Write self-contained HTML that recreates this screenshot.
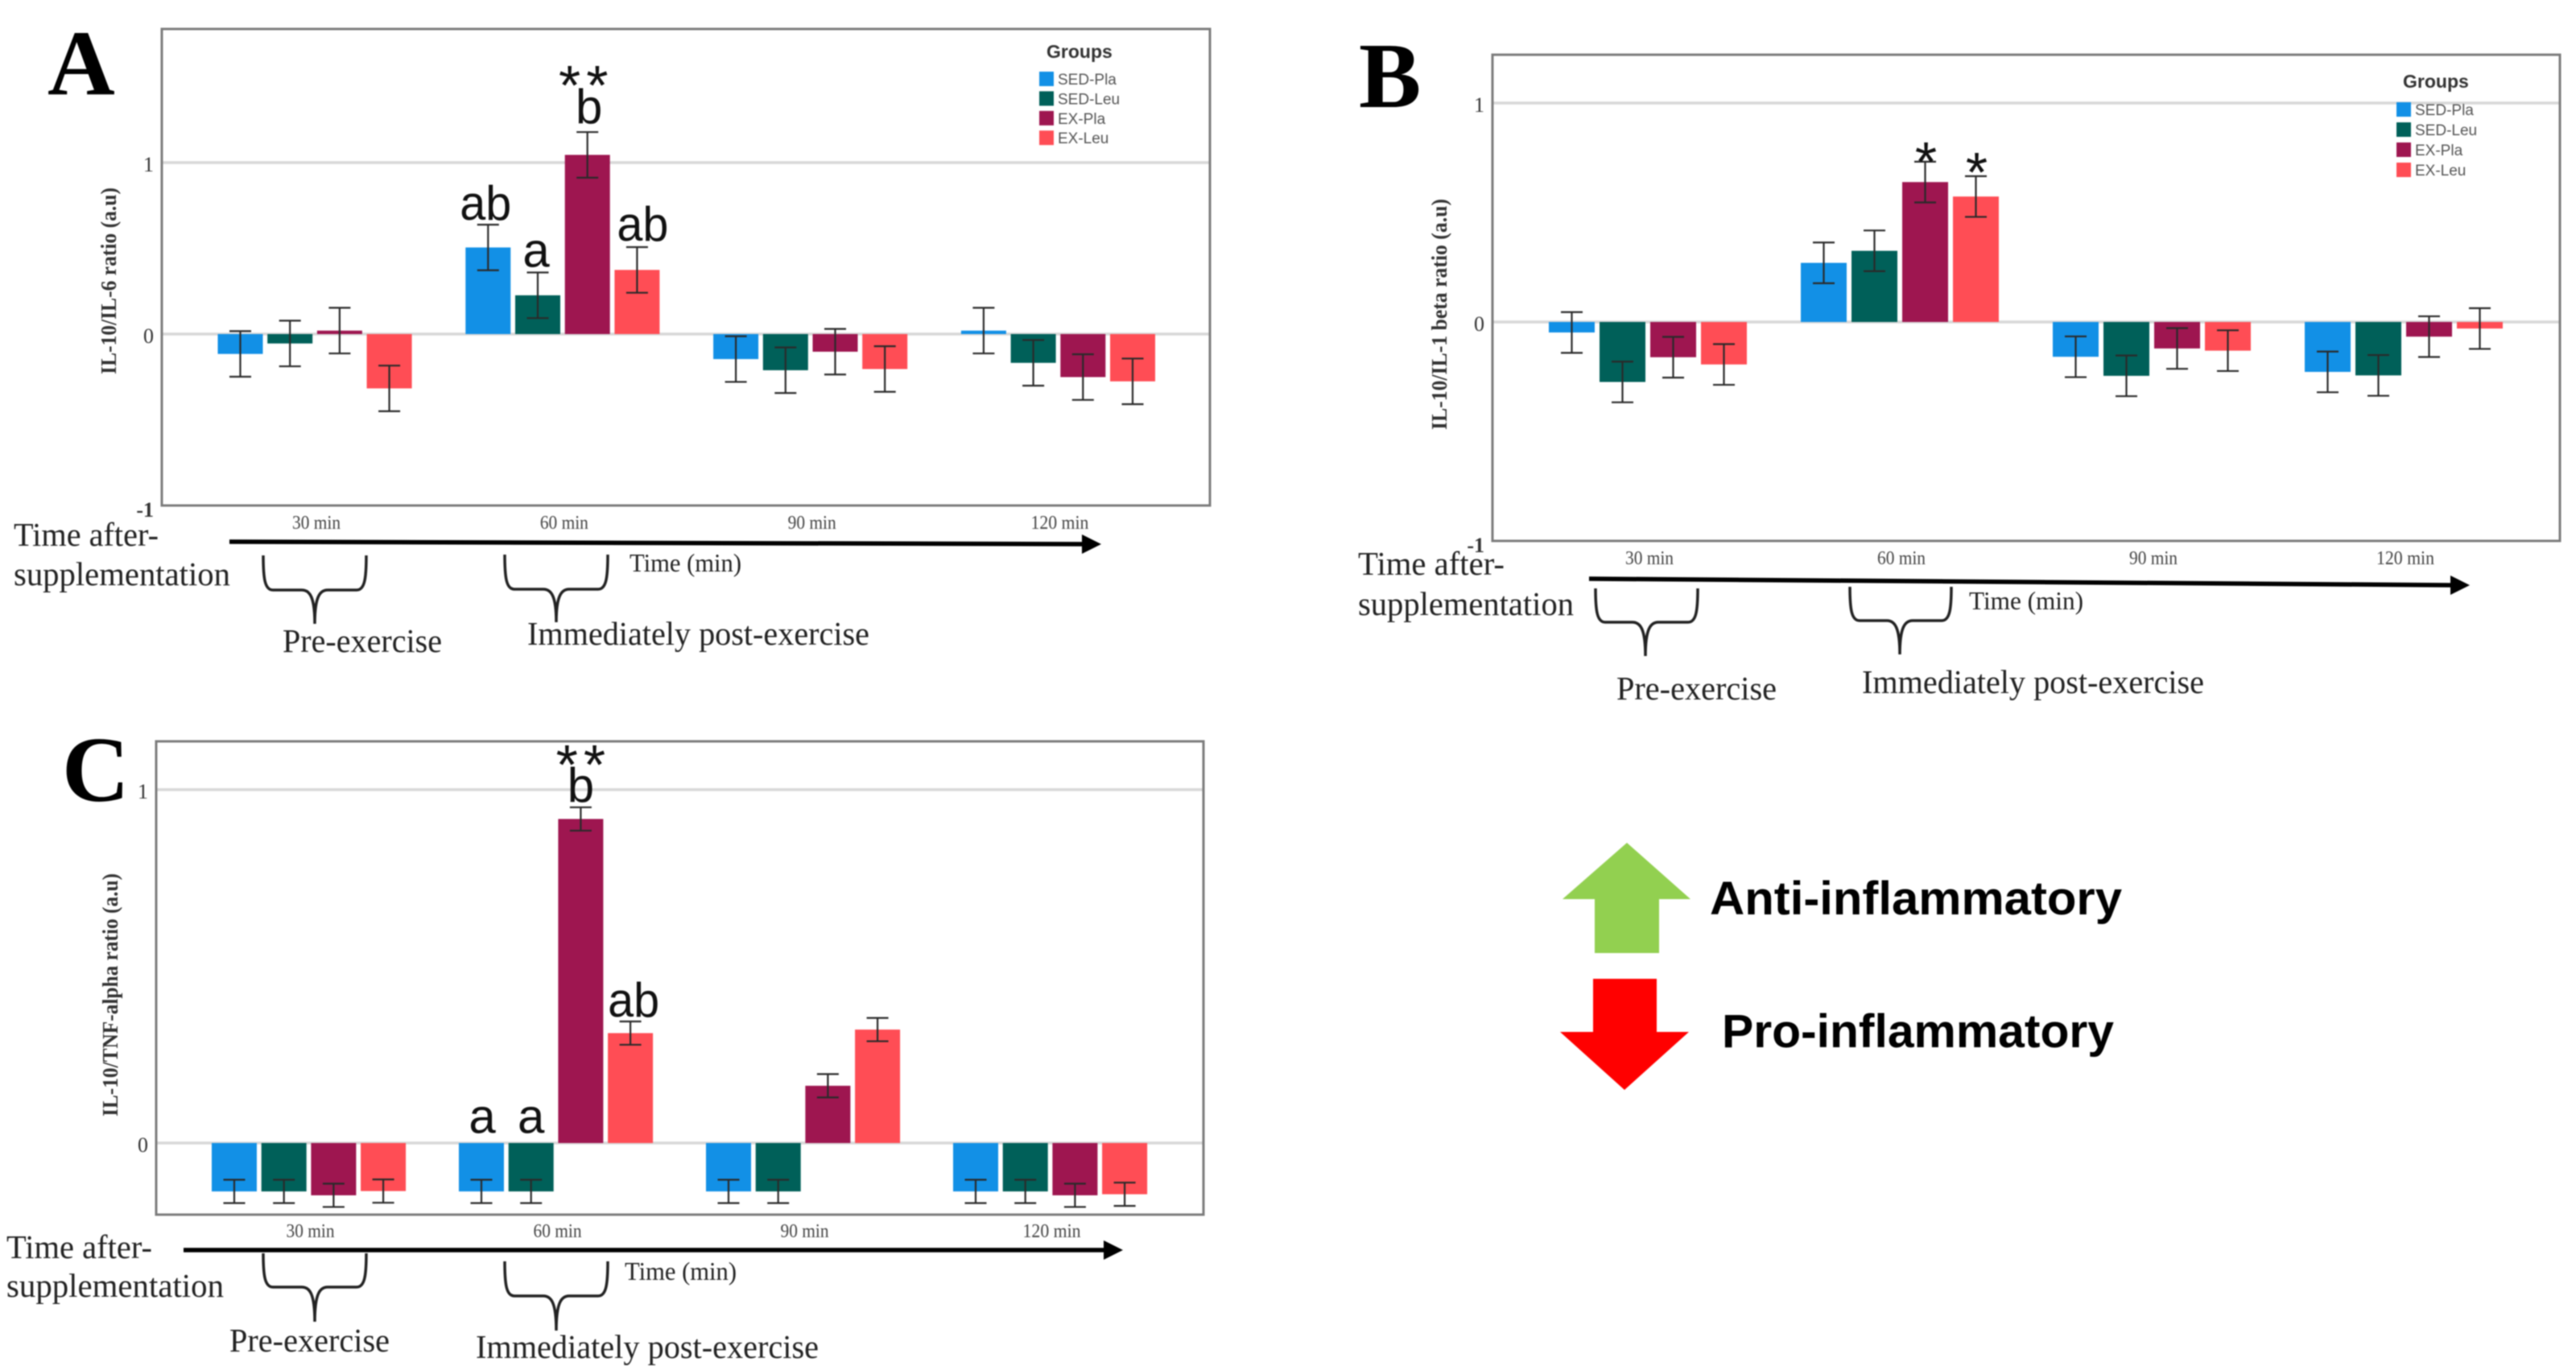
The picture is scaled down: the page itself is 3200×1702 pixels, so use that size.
<!DOCTYPE html>
<html lang="en">
<head>
<meta charset="utf-8">
<title>IL-10 ratios after supplementation</title>
<style>
html,body{margin:0;padding:0;background:#fff;}
#figure{display:block;width:3200px;height:1702px;filter:blur(0.7px);}
.serif{font-family:"Liberation Serif",serif;}
.sans{font-family:"Liberation Sans",sans-serif;}
.letter{font-family:"Liberation Serif",serif;font-weight:700;font-size:116px;fill:#000;}
.note{font-family:"Liberation Serif",serif;font-size:41px;fill:#222;}
.timemin{font-family:"Liberation Serif",serif;font-size:32px;fill:#222;}
.ytitle{font-family:"Liberation Serif",serif;font-weight:700;font-size:27px;fill:#333;}
.brace{fill:none;stroke:#222;stroke-width:3.5;}
.tline{stroke:#000;stroke-width:5.5;}
.side{font-family:"Liberation Sans",sans-serif;font-weight:700;font-size:58px;fill:#000;}
</style>
</head>
<body>
<svg id="figure" xmlns="http://www.w3.org/2000/svg" width="3200" height="1702" viewBox="0 0 3200 1702">
  <g id="panel-a"></g>
  <g id="panel-b"></g>
  <g id="panel-c"></g>

  <text class="letter" x="59" y="117">A</text>
  <text class="letter" x="1688" y="133">B</text>
  <text class="letter" x="77" y="995">C</text>

  <text class="ytitle" transform="translate(144,465) rotate(-90)" textLength="232" lengthAdjust="spacingAndGlyphs">IL-10/IL-6 ratio (a.u)</text>
  <text class="ytitle" transform="translate(1797,534) rotate(-90)" textLength="287" lengthAdjust="spacingAndGlyphs">IL-10/IL-1 beta ratio (a.u)</text>
  <text class="ytitle" transform="translate(146,1387) rotate(-90)" textLength="302" lengthAdjust="spacingAndGlyphs">IL-10/TNF-alpha ratio (a.u)</text>

  <!-- Panel A timeline -->
  <g>
    <text class="note" x="17" y="678" textLength="180" lengthAdjust="spacingAndGlyphs">Time after-</text>
    <text class="note" x="17" y="727" textLength="269" lengthAdjust="spacingAndGlyphs">supplementation</text>
    <line class="tline" x1="285" y1="673" x2="1348" y2="676"/>
    <polygon points="1344,664 1368,676 1344,688" fill="#000"/>
    <text class="timemin" x="782" y="710" textLength="139" lengthAdjust="spacingAndGlyphs">Time (min)</text>
    <path class="brace" d="M327 690 C327 719 329 733 339 733 L375 733 C385 733 391 742 391 775 C391 742 397 733 407 733 L443 733 C453 733 455 719 455 690"/>
    <path class="brace" d="M627 689 C627 718 629 732 639 732 L675 732 C685 732 691 741 691 773 C691 741 697 732 707 732 L743 732 C753 732 755 718 755 689"/>
    <text class="note" x="351" y="810" textLength="198" lengthAdjust="spacingAndGlyphs">Pre-exercise</text>
    <text class="note" x="655" y="801" textLength="425" lengthAdjust="spacingAndGlyphs">Immediately post-exercise</text>
  </g>

  <!-- Panel B timeline -->
  <g>
    <text class="note" x="1687" y="714" textLength="182" lengthAdjust="spacingAndGlyphs">Time after-</text>
    <text class="note" x="1687" y="764" textLength="268" lengthAdjust="spacingAndGlyphs">supplementation</text>
    <line class="tline" x1="1974" y1="719" x2="3048" y2="727"/>
    <polygon points="3044,715 3068,727 3044,739" fill="#000"/>
    <text class="timemin" x="2446" y="757" textLength="142" lengthAdjust="spacingAndGlyphs">Time (min)</text>
    <path class="brace" d="M1982 731 C1982 759 1984 773 1994 773 L2028 773 C2038 773 2044 782 2044 815 C2044 782 2050 773 2060 773 L2097 773 C2107 773 2109 759 2109 731"/>
    <path class="brace" d="M2298 729 C2298 757 2300 771 2310 771 L2344 771 C2354 771 2360 780 2360 813 C2360 780 2366 771 2376 771 L2412 771 C2422 771 2424 757 2424 729"/>
    <text class="note" x="2008" y="869" textLength="199" lengthAdjust="spacingAndGlyphs">Pre-exercise</text>
    <text class="note" x="2313" y="861" textLength="425" lengthAdjust="spacingAndGlyphs">Immediately post-exercise</text>
  </g>

  <!-- Panel C timeline -->
  <g>
    <text class="note" x="8" y="1563" textLength="181" lengthAdjust="spacingAndGlyphs">Time after-</text>
    <text class="note" x="8" y="1611" textLength="270" lengthAdjust="spacingAndGlyphs">supplementation</text>
    <line class="tline" x1="228" y1="1553" x2="1375" y2="1553"/>
    <polygon points="1371,1541 1395,1553 1371,1565" fill="#000"/>
    <text class="timemin" x="776" y="1590" textLength="139" lengthAdjust="spacingAndGlyphs">Time (min)</text>
    <path class="brace" d="M327 1557 C327 1585 329 1599 339 1599 L375 1599 C385 1599 391 1608 391 1642 C391 1608 397 1599 407 1599 L443 1599 C453 1599 455 1585 455 1557"/>
    <path class="brace" d="M627 1567 C627 1596 629 1610 639 1610 L675 1610 C685 1610 691 1619 691 1653 C691 1619 697 1610 707 1610 L743 1610 C753 1610 755 1596 755 1567"/>
    <text class="note" x="285" y="1679" textLength="199" lengthAdjust="spacingAndGlyphs">Pre-exercise</text>
    <text class="note" x="591" y="1687" textLength="426" lengthAdjust="spacingAndGlyphs">Immediately post-exercise</text>
  </g>

  <!-- Side key -->
  <polygon points="2021,1047 2100,1117 2061,1117 2061,1184 1981,1184 1981,1117 1941,1117" fill="#92d050"/>
  <polygon points="1979,1216 2058,1216 2058,1282 2098,1282 2018,1354 1938,1282 1979,1282" fill="#ff0000"/>
  <text class="side" x="2124" y="1136" textLength="512" lengthAdjust="spacingAndGlyphs">Anti-inflammatory</text>
  <text class="side" x="2139" y="1301" textLength="487" lengthAdjust="spacingAndGlyphs">Pro-inflammatory</text>
</svg>

<script>
const timeLabels = ['30 min', '60 min', '90 min', '120 min'];
const groupNames = ['SED-Pla', 'SED-Leu', 'EX-Pla', 'EX-Leu'];

// Panel A: IL-10/IL-6 ratio
const a_sedPla = [-0.116, 0.505, -0.146, 0.02];
const a_sedLeu = [-0.055, 0.226, -0.211, -0.168];
const a_exPla = [0.02, 1.045, -0.103, -0.251];
const a_exLeu = [-0.317, 0.374, -0.204, -0.276];
const a_sem = [0.133, 0.133, 0.133, 0.133];
const a_ticks = [1, 0, -1];

// Panel B: IL-10/IL-1 beta ratio
const b_sedPla = [-0.048, 0.27, -0.159, -0.228];
const b_sedLeu = [-0.274, 0.325, -0.246, -0.244];
const b_exPla = [-0.161, 0.639, -0.121, -0.067];
const b_exLeu = [-0.194, 0.573, -0.131, -0.03];
const b_sem = [0.093, 0.093, 0.093, 0.093];
const b_ticks = [1, 0, -1];

// Panel C: IL-10/TNF-alpha ratio
const c_sedPla = [-0.137, -0.137, -0.137, -0.137];
const c_sedLeu = [-0.137, -0.137, -0.137, -0.137];
const c_exPla = [-0.148, 0.917, 0.162, -0.148];
const c_exLeu = [-0.136, 0.311, 0.321, -0.145];
const c_sem = [0.033, 0.033, 0.033, 0.033];
const c_ticks = [1, 0];

const NS = 'http://www.w3.org/2000/svg';
const seriesColors = ['#1290e6', '#006059', '#9e1650', '#ff4d55'];

function mk(parent, tag, attrs, txt) {
  const el = document.createElementNS(NS, tag);
  for (const k in attrs) el.setAttribute(k, attrs[k]);
  if (txt !== undefined) el.textContent = txt;
  parent.appendChild(el);
  return el;
}

function drawPanel(p) {
  const root = document.getElementById(p.id);
  const L = p.left, R = p.right, T = p.top, B = p.bottom;
  const yScale = v => p.zeroY - v * p.unit;
  const xBar = (g, s) => p.firstBar + g * p.groupStep + s * p.barStep;

  p.ticks.forEach(t => {
    if (t !== -1) {
      const grid = mk(root, 'line', {x1: L, x2: R, y1: yScale(t), y2: yScale(t), stroke: '#d8d8d8', 'stroke-width': 3.5});
      
      
    }
    const tick = mk(root, 'text', {x: L - 10, y: yScale(t) + (t === -1 ? 14 : 11), 'text-anchor': 'end', class: 'serif', 'font-size': 26, 'font-weight': t === -1 ? 700 : 400, fill: '#333'}, String(t));
    
    
  });

  p.series.forEach((vals, s) => {
    vals.forEach((v, g) => {
      const x = xBar(g, s);
      const y0 = yScale(0), y1 = yScale(v);
      const bar = mk(root, 'rect', {x: x, y: Math.min(y0, y1), width: p.barW, height: Math.abs(y1 - y0), fill: seriesColors[s]});
      
      
    });
  });

  p.series.forEach((vals, s) => {
    vals.forEach((v, g) => {
      const cx = xBar(g, s) + p.barW / 2;
      const hi = yScale(v + p.sem[s]), lo = yScale(v - p.sem[s]);
      const eg = mk(root, 'g', {stroke: '#2a2a2a', 'stroke-width': 2.2});
      
      
      mk(eg, 'line', {x1: cx, x2: cx, y1: hi, y2: lo});
      mk(eg, 'line', {x1: cx - 13.5, x2: cx + 13.5, y1: hi, y2: hi});
      mk(eg, 'line', {x1: cx - 13.5, x2: cx + 13.5, y1: lo, y2: lo});
    });
  });

  p.notes.forEach(n => {
    const cx = xBar(n.g, n.s) + p.barW / 2 + n.dx;
    const by = yScale(p.series[n.s][n.g] + p.sem[n.s]) - n.dy;
    const attrs = {x: cx, y: by, 'text-anchor': 'middle', class: 'sans', 'font-size': n.size, fill: '#111'};
    if (n.spacing) attrs['letter-spacing'] = n.spacing;
    if (n.fit) { attrs.textLength = n.fit; attrs.lengthAdjust = 'spacingAndGlyphs'; }
    const label = mk(root, 'text', attrs, n.text);
    
    
  });

  const frame = mk(root, 'rect', {x: L, y: T, width: R - L, height: B - T, fill: 'none', stroke: '#7c7c7c', 'stroke-width': 3});
  
  

  timeLabels.forEach((lab, g) => {
    const cx = xBar(g, 0) + (3 * p.barStep + p.barW) / 2 + p.catDx;
    const cat = mk(root, 'text', {x: cx, y: B + p.catGap, 'text-anchor': 'middle', class: 'serif', 'font-size': 24, fill: '#444', textLength: lab.length > 6 ? 72 : 60, lengthAdjust: 'spacingAndGlyphs'}, lab);
    
    
  });

  if (p.legend) {
    const leg = mk(root, 'g', {});
    
    
    const title = mk(leg, 'text', {x: p.legend.titleX, y: p.legend.titleY, class: 'sans', 'font-size': 23, 'font-weight': 700, fill: '#333'}, 'Groups');
    
    
    groupNames.forEach((name, i) => {
      const y = p.legend.y + i * p.legend.step;
      const sw = mk(leg, 'rect', {x: p.legend.x, y: y, width: 18, height: 18, fill: seriesColors[i]});
      
      
      const lb = mk(leg, 'text', {x: p.legend.x + 23, y: y + 16, class: 'sans', 'font-size': 19, fill: '#555'}, name);
      
      
    });
  }
}

drawPanel({
  id: 'panel-a', left: 201, right: 1503, top: 36, bottom: 628, zeroY: 415, unit: 213,
  firstBar: 270.5, barW: 56, barStep: 61.7, groupStep: 307.8, catGap: 29, catDx: 2,
  series: [a_sedPla, a_sedLeu, a_exPla, a_exLeu], sem: a_sem, ticks: a_ticks,
  notes: [
    {g: 1, s: 0, text: 'ab', size: 60, dx: -3, dy: 6, fit: 64},
    {g: 1, s: 1, text: 'a', size: 60, dx: -2, dy: 7},
    {g: 1, s: 2, text: 'b', size: 60, dx: 2, dy: 11},
    {g: 1, s: 2, text: '**', size: 70, dx: -1.5, dy: 34, spacing: 7},
    {g: 1, s: 3, text: 'ab', size: 60, dx: 7, dy: 8, fit: 64}
  ],
  legend: {x: 1291, y: 89, step: 24.4, titleX: 1300, titleY: 72}
});

drawPanel({
  id: 'panel-b', left: 1854, right: 3180, top: 68, bottom: 672, zeroY: 400, unit: 272,
  firstBar: 1924, barW: 57, barStep: 63, groupStep: 313, catGap: 29, catDx: 2,
  series: [b_sedPla, b_sedLeu, b_exPla, b_exLeu], sem: b_sem, ticks: b_ticks,
  notes: [
    {g: 1, s: 2, text: '*', size: 70, dx: 1, dy: -24},
    {g: 1, s: 3, text: '*', size: 70, dx: 1, dy: -19}
  ],
  legend: {x: 2977, y: 127, step: 25, titleX: 2985, titleY: 109}
});

drawPanel({
  id: 'panel-c', left: 194, right: 1495, top: 921, bottom: 1509, zeroY: 1420, unit: 439,
  firstBar: 263, barW: 56, barStep: 61.7, groupStep: 307, catGap: 28, catDx: 2,
  series: [c_sedPla, c_sedLeu, c_exPla, c_exLeu], sem: c_sem, ticks: c_ticks,
  notes: [
    {g: 1, s: 0, text: 'a', size: 60, dx: 1, dy: 58},
    {g: 1, s: 1, text: 'a', size: 60, dx: 0, dy: 58},
    {g: 1, s: 2, text: 'b', size: 60, dx: 0, dy: 7},
    {g: 1, s: 2, text: '**', size: 70, dx: 3.5, dy: 29, spacing: 7},
    {g: 1, s: 3, text: 'ab', size: 60, dx: 4, dy: 6, fit: 64}
  ]
});
</script>
</body>
</html>
